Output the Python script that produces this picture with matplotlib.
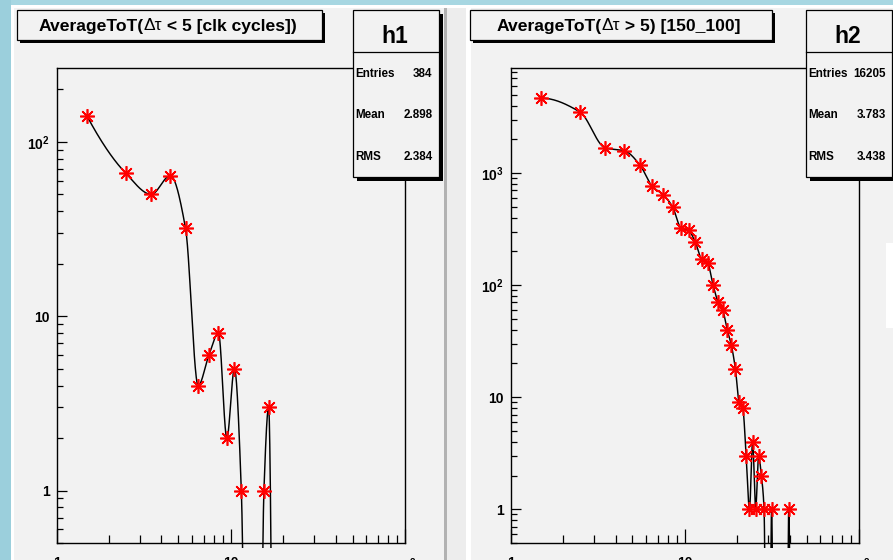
import numpy as np
import matplotlib
matplotlib.use("Agg")
import matplotlib.pyplot as plt
from matplotlib.patches import Rectangle
from matplotlib.offsetbox import TextArea, HPacker, AnnotationBbox
from matplotlib.ticker import LogLocator, NullFormatter

plt.rcParams['font.family'] = ['Liberation Sans', 'DejaVu Sans']
plt.rcParams['mathtext.fontset'] = 'custom'
plt.rcParams['mathtext.rm'] = 'Liberation Sans:bold'
plt.rcParams['mathtext.it'] = 'Liberation Sans:bold'
plt.rcParams['mathtext.bf'] = 'Liberation Sans:bold'

# ---------------- histogram contents ----------------
h1_bins = [1.5, 2.5, 3.5, 4.5, 5.5, 6.5, 7.5, 8.5, 9.5, 10.5, 11.5, 12.5,
           13.5, 14.5, 15.5, 16.5, 17.5]
h1_counts = [140, 66, 50, 64, 32, 4, 6, 8, 2, 5, 1, 0, 0, 0, 1, 3, 0]

h2_bins = [1.5, 2.5, 3.5, 4.5, 5.5, 6.5, 7.5, 8.5, 9.5, 10.5, 11.5, 12.5,
           13.5, 14.5, 15.5, 16.5, 17.5, 18.5, 19.5, 20.5, 21.5, 22.5, 23.5,
           24.5, 25.5, 26.5, 27.5, 28.5, 29.5, 30.5, 31.5, 32.5, 33.5, 34.5,
           35.5, 36.5, 37.5, 38.5, 39.5, 40.5]
h2_counts = [4660, 3500, 1670, 1580, 1190, 760, 641, 500, 324, 308, 240, 170,
             159, 101, 71, 60, 40, 29, 18, 9, 8, 3, 1, 4, 1, 3, 2, 1, 0, 0,
             1, 0, 0, 0, 0, 0, 0, 0, 1, 0]

h1_title = ["AverageToT(", "\u0394\u03c4", " < 5 [clk cycles])"]
h2_title = ["AverageToT(", "\u0394\u03c4", " > 5) [150_100]"]
h1_name, h2_name = "h1", "h2"
stat_labels = ["Entries", "Mean", "RMS"]
h1_stats = ["384", "2.898", "2.384"]
h2_stats = ["16205", "3.783", "3.438"]

h1_yticks = [1, 10, 100]
h1_yticklabels = ["1", "10", r"$10^{2}$"]
h2_yticks = [1, 10, 100, 1000]
h2_yticklabels = ["1", "10", r"$10^{2}$", r"$10^{3}$"]
x_ticks = [1, 10, 100]
x_ticklabels = ["1", "10", r"$10^{2}$"]

# ---------------- geometry helpers ----------------
W, H = 893, 560
PAD_GRAY = '#f2f2f2'


def frect(x0, y0, x1, y1):
    return [x0 / W, 1 - y1 / H, (x1 - x0) / W, (y1 - y0) / H]


def pchip_slopes(u, v):
    h = np.diff(u)
    d = np.diff(v) / h
    n = len(u)
    m = np.zeros(n)
    for k in range(1, n - 1):
        if d[k - 1] * d[k] > 0:
            w1 = 2 * h[k] + h[k - 1]
            w2 = h[k] + 2 * h[k - 1]
            m[k] = (w1 + w2) / (w1 / d[k - 1] + w2 / d[k])

    def end(h0, h1, d0, d1):
        s = ((2 * h0 + h1) * d0 - h0 * d1) / (h0 + h1)
        if np.sign(s) != np.sign(d0):
            s = 0.0
        elif np.sign(d0) != np.sign(d1) and abs(s) > abs(3 * d0):
            s = 3 * d0
        return s

    m[0] = end(h[0], h[1], d[0], d[1])
    m[-1] = end(h[-1], h[-2], d[-1], d[-2])
    return m


def smooth_curve(x, y, floor=1e-2, n=40):
    """Monotone cubic through the points in log-log space (ROOT 'C' style)."""
    x = np.asarray(x, float)
    y = np.asarray(y, float)
    u = np.log10(x)
    v = np.log10(np.where(y > 0, y, floor))
    m = pchip_slopes(u, v)
    us, vs = [], []
    for k in range(len(u) - 1):
        t = np.linspace(0, 1, n, endpoint=(k == len(u) - 2))
        hk = u[k + 1] - u[k]
        h00 = 2 * t**3 - 3 * t**2 + 1
        h10 = t**3 - 2 * t**2 + t
        h01 = -2 * t**3 + 3 * t**2
        h11 = t**3 - t**2
        vs.append(h00 * v[k] + h10 * hk * m[k] + h01 * v[k + 1] + h11 * hk * m[k + 1])
        us.append(u[k] + t * hk)
    return 10 ** np.concatenate(us), 10 ** np.concatenate(vs)


fig = plt.figure(figsize=(W / 100, H / 100), dpi=100)

# ---------------- canvas background ----------------
bg = fig.add_axes([0, 0, 1, 1], zorder=0)
bg.set_xlim(0, W)
bg.set_ylim(H, 0)
bg.axis('off')


def rect(ax, x0, y0, x1, y1, **kw):
    ax.add_patch(Rectangle((x0, y0), x1 - x0, y1 - y0, **kw))


rect(bg, 0, 0, W, H, color=PAD_GRAY, lw=0)
rect(bg, 0, 0, W, 5, color='#a7d7e2', lw=0)
rect(bg, 0, 0, 11, H, color='#9bcfdc', lw=0)
rect(bg, 11, 5, W, 8, color='white', lw=0)
rect(bg, 11, 8, 14, H, color='white', lw=0)
rect(bg, 444, 8, 447, H, color='#b2b2b2', lw=0)
rect(bg, 447, 8, 466, H, color='#ededed', lw=0)
rect(bg, 466, 8, 471, H, color='white', lw=0)
rect(bg, 886, 243, W, 328, color='white', lw=0)


# ---------------- the two histogram pads ----------------
def draw_hist(axrect, bins, counts, ymax, yticks, yticklabels):
    ax = fig.add_axes(axrect, zorder=1)
    ax.set_facecolor(PAD_GRAY)
    ax.set_xscale('log')
    ax.set_yscale('log')
    ax.set_xlim(1, 100)
    ax.set_ylim(0.5, ymax)

    xs, ys = smooth_curve(bins, counts)
    line, = ax.plot(xs, ys, color='black', lw=1.05, zorder=2)
    h_px = axrect[3] * H
    clip = Rectangle((0, -5.0 / h_px), 1, 1 + 5.0 / h_px,
                     transform=ax.transAxes, facecolor='none', edgecolor='none')
    ax.add_patch(clip)
    line.set_clip_path(clip)

    bx = [b for b, c in zip(bins, counts) if c > 0]
    cy = [c for c in counts if c > 0]
    ax.plot(bx, cy, ls='none', marker=(8, 2, 0), ms=10.5, mec='red',
            mfc='red', mew=1.2, zorder=3)

    ax.set_xticks(x_ticks)
    ax.set_xticklabels(x_ticklabels)
    ax.set_yticks(yticks)
    ax.set_yticklabels(yticklabels)
    ax.xaxis.set_minor_locator(LogLocator(base=10, subs=np.arange(2, 10)))
    ax.yaxis.set_minor_locator(LogLocator(base=10, subs=np.arange(2, 10)))
    ax.xaxis.set_minor_formatter(NullFormatter())
    ax.yaxis.set_minor_formatter(NullFormatter())
    ax.tick_params(axis='both', which='both', direction='in', top=False,
                   right=False, color='black', width=0.9)
    ax.tick_params(axis='x', which='major', length=10, pad=9.5)
    ax.tick_params(axis='x', which='minor', length=5.8)
    ax.tick_params(axis='y', which='major', length=7.4, pad=5)
    ax.tick_params(axis='y', which='minor', length=4.3)
    for lab in ax.get_xticklabels() + ax.get_yticklabels():
        lab.set_fontsize(10)
        lab.set_fontweight('bold')
    for sp in ax.spines.values():
        sp.set_linewidth(1.0)
        sp.set_color('black')
    return ax


draw_hist(frect(56.5, 67.5, 405, 543), h1_bins, h1_counts, 267,
          h1_yticks, h1_yticklabels)
draw_hist(frect(510.7, 67.5, 859, 543), h2_bins, h2_counts, 8740,
          h2_yticks, h2_yticklabels)

# ---------------- title and statistics boxes ----------------
ov = fig.add_axes([0, 0, 1, 1], zorder=3)
ov.set_xlim(0, W)
ov.set_ylim(H, 0)
ov.patch.set_alpha(0)
ov.axis('off')


def title_box(x0, y0, x1, y1, parts, cx, cy):
    rect(ov, x0 + 3, y0 + 3, x1 + 3, y1 + 3, color='black', lw=0)
    rect(ov, x0, y0, x1, y1, facecolor=PAD_GRAY, edgecolor='black', lw=0.9)
    areas = [TextArea(parts[0], textprops=dict(fontsize=12.6, fontweight='bold')),
             TextArea(parts[1], textprops=dict(fontsize=12.6, fontweight='normal')),
             TextArea(parts[2], textprops=dict(fontsize=12.6, fontweight='bold'))]
    pack = HPacker(children=areas, align='baseline', pad=0, sep=0)
    ab = AnnotationBbox(pack, (cx, cy), xycoords='data', box_alignment=(0.5, 0.5),
                        frameon=False, pad=0)
    ov.add_artist(ab)


def stat_box(x0, y0, x1, y1, name, values, name_x):
    rect(ov, x0 + 4, y0 + 4, x1 + 4, y1 + 4, color='black', lw=0)
    rect(ov, x0, y0, x1, y1, facecolor=PAD_GRAY, edgecolor='black', lw=0.9)
    ov.plot([x0, x1], [51.7, 51.7], color='black', lw=0.9)
    ov.text(name_x, 43.3, name, fontsize=16.5, fontweight='bold',
            ha='center', va='baseline')
    for lab, val, yb in zip(stat_labels, values, [77.3, 118.3, 160.0]):
        ov.text(x0 + 2.5, yb, lab, fontsize=8.4, fontweight='bold',
                ha='left', va='baseline')
        ov.text(x1 - 6, yb, val, fontsize=8.4, fontweight='bold',
                ha='right', va='baseline')


title_box(17, 10, 321.5, 40, h1_title, 168, 26)
title_box(470, 10, 771.5, 40, h2_title, 618.5, 26)
stat_box(352.5, 9.5, 438.5, 177, h1_name, h1_stats, 394.5)
stat_box(806, 9.5, 891.7, 177, h2_name, h2_stats, 847.5)

fig.savefig('out.png', dpi=100, facecolor=PAD_GRAY)
